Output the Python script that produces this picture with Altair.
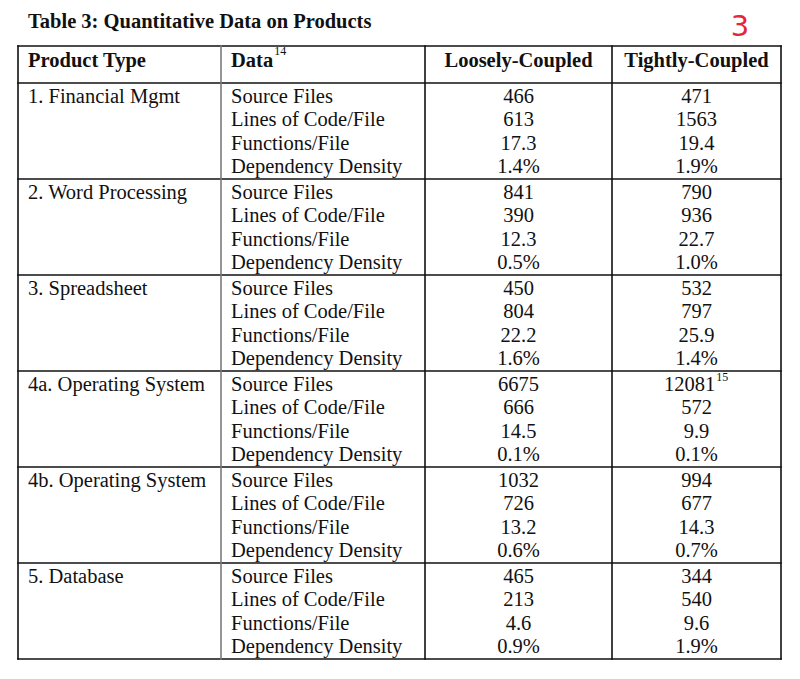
import altair as alt
import pandas as pd

# ---------------- data ----------------
title_text = "Table 3: Quantitative Data on Products"
headers = ["Product Type", "Data", "Loosely-Coupled", "Tightly-Coupled"]
header_note_col = "Data"
header_note = "14"
products = ["1. Financial Mgmt", "2. Word Processing", "3. Spreadsheet",
            "4a. Operating System", "4b. Operating System", "5. Database"]
metrics = ["Source Files", "Lines of Code/File", "Functions/File", "Dependency Density"]
loosely = [
    ["466", "613", "17.3", "1.4%"],
    ["841", "390", "12.3", "0.5%"],
    ["450", "804", "22.2", "1.6%"],
    ["6675", "666", "14.5", "0.1%"],
    ["1032", "726", "13.2", "0.6%"],
    ["465", "213", "4.6", "0.9%"],
]
tightly = [
    ["471", "1563", "19.4", "1.9%"],
    ["790", "936", "22.7", "1.0%"],
    ["532", "797", "25.9", "1.4%"],
    ["12081", "572", "9.9", "0.1%"],
    ["994", "677", "14.3", "0.7%"],
    ["344", "540", "9.6", "1.9%"],
]
cell_note = ("4a. Operating System", "Source Files", "Tightly-Coupled", "15")
margin_mark = "3"

# ---------------- layout ----------------
W, H = 784, 663
FONT = "Liberation Serif"
FS = 20.5
NOTE_FS = 12
col_edges = [18, 221, 425, 612, 781]
edge_colors = ["#111111", "#7a7a7a", "#111111", "#111111", "#111111"]
col_anchor = {"Product Type": 28, "Data": 231,
              "Loosely-Coupled": (col_edges[2] + col_edges[3]) / 2,
              "Tightly-Coupled": (col_edges[3] + col_edges[4]) / 2}
# y in "row units": one unit = 24px, 0 = bottom of header row
ROWS = len(metrics)
table_top = -1.54
header_base = -0.67
title_base = -2.29
table_bottom = ROWS * len(products)


def body_y(g, r):
    return ROWS * g + (19.5 + 23.5 * r) / 24.0


xs = alt.Scale(domain=[8, 8 + W], nice=False, zero=False)
ys = alt.Scale(domain=[-3.125, 24.5], nice=False, zero=False, reverse=True)
X = alt.X("x:Q", scale=xs, axis=None)
Y = alt.Y("y:Q", scale=ys, axis=None)

# ---------------- tables ----------------
left_rows, center_rows = [], []
note_rows = []
for g, prod in enumerate(products):
    for r, m in enumerate(metrics):
        y = body_y(g, r)
        if r == 0:
            left_rows.append({"x": col_anchor["Product Type"], "y": y, "t": prod})
        left_rows.append({"x": col_anchor["Data"], "y": y, "t": m})
        for col, vals in (("Loosely-Coupled", loosely), ("Tightly-Coupled", tightly)):
            v = vals[g][r]
            cx = col_anchor[col]
            if (prod, m, col) == cell_note[:3]:
                note = cell_note[3]
                shift = len(note) * 0.5 * NOTE_FS / 2 + 1
                cx = cx - shift
                note_rows.append({"x": cx + len(v) * 0.5 * FS / 2 + 1,
                                  "y": y - 0.4, "t": note})
            center_rows.append({"x": cx, "y": y, "t": v})

head_left = pd.DataFrame([{"x": col_anchor[h], "y": header_base, "t": h} for h in headers[:2]])
head_center = pd.DataFrame([{"x": col_anchor[h], "y": header_base, "t": h} for h in headers[2:]])
note_rows.append({"x": col_anchor[header_note_col] + 2.055 * FS + 1,
                  "y": header_base - 0.5, "t": header_note})

hlines = [table_top, 0] + [ROWS * (g + 1) for g in range(len(products))]
hrule_df = pd.DataFrame({"y": hlines, "x": col_edges[0], "x2": col_edges[-1]})
vrule_df = pd.DataFrame({"x": col_edges, "y": table_top, "y2": table_bottom, "c": edge_colors})

title_df = pd.DataFrame([{"x": 28, "y": title_base, "t": title_text}])
mark_df = pd.DataFrame([{"x": 740, "y": -2.35, "t": margin_mark}])

base_txt = dict(font=FONT, fontSize=FS, color="#111111", baseline="alphabetic")

hrules = alt.Chart(hrule_df).mark_rule(strokeWidth=1.6, color="#111111", strokeCap="square").encode(
    x=X, x2="x2:Q", y=Y)
vrules = alt.Chart(vrule_df).mark_rule(strokeWidth=1.6, strokeCap="square").encode(
    x=X, y=Y, y2="y2:Q", color=alt.Color("c:N", scale=None))

body_left = alt.Chart(pd.DataFrame(left_rows)).mark_text(align="left", **base_txt).encode(
    x=X, y=Y, text="t:N")
body_center = alt.Chart(pd.DataFrame(center_rows)).mark_text(align="center", **base_txt).encode(
    x=X, y=Y, text="t:N")
hdr_left = alt.Chart(head_left).mark_text(align="left", fontWeight="bold", **base_txt).encode(
    x=X, y=Y, text="t:N")
hdr_center = alt.Chart(head_center).mark_text(align="center", fontWeight="bold", **base_txt).encode(
    x=X, y=Y, text="t:N")
notes = alt.Chart(pd.DataFrame(note_rows)).mark_text(
    align="left", baseline="alphabetic", font=FONT, fontSize=NOTE_FS, color="#111111").encode(
    x=X, y=Y, text="t:N")
title = alt.Chart(title_df).mark_text(align="left", fontWeight="bold", **base_txt).encode(
    x=X, y=Y, text="t:N")
red_mark = alt.Chart(mark_df).mark_text(
    align="center", baseline="middle", font="DejaVu Sans", fontSize=29,
    fontWeight="normal", color="#e3263c").encode(x=X, y=Y, text="t:N")

chart = alt.layer(
    hrules, vrules, body_left, body_center, hdr_left, hdr_center, notes, title, red_mark
).properties(
    width=W, height=H, padding=0, autosize=alt.AutoSizeParams(type="none")
).configure_view(stroke=None)

chart.save("out.html", embed_options={"renderer": "svg", "actions": False})
